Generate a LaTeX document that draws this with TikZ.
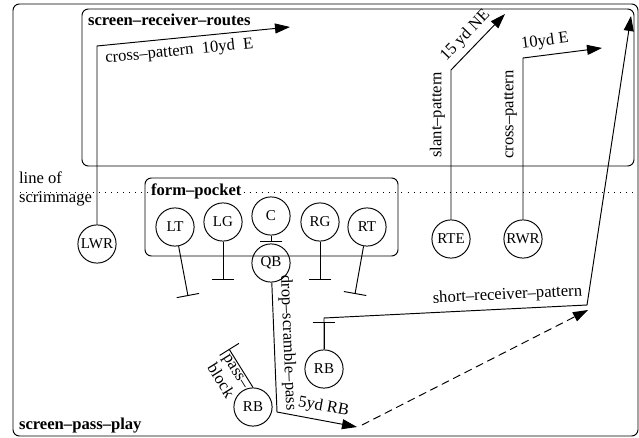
\documentclass[tikz,border=0pt]{standalone}
\usepackage{fontspec}
\setmainfont{Liberation Serif}
\usepackage{tikz}
\usetikzlibrary{arrows.meta}

\begin{document}
\fontsize{10.4}{11.8}\selectfont
\begin{tikzpicture}[
    x=0.22mm, y=-0.22mm, semithick,
    player/.style={draw, circle, inner sep=0pt, minimum size=8.4mm, font=\fontsize{9.4}{11}\selectfont},
    zone/.style={draw, rounded corners=4pt},
    zonelabel/.style={font=\bfseries, inner sep=1pt, anchor=west},
    route/.style={->},
    blocking/.style={-{Bar[width=5mm]}},
    scrimmage/.style={dash pattern=on 0.6pt off 3.2pt},
    >={Triangle[length=3.3mm, width=2.2mm]}
  ]
  \useasboundingbox (0,0) rectangle (639,437);
  \draw[zone] (13,4) rectangle (638,436);
  \draw[zone] (82,9) rectangle (634,166);
  \draw[zone] (145,178) rectangle (398,256);
  \node[zonelabel] (playlabel) at (17,426) {screen--pass--play};
  \node[zonelabel] (routeslabel) at (86,20) {screen--receiver--routes};
  \node[zonelabel] (pocketlabel) at (149,191) {form--pocket};
  \node[align=left, anchor=west, inner sep=1pt] (scrimlabel) at (17,189) {line of\\scrimmage};
  \coordinate (scrimleft) at (20,192);
  \coordinate (scrimright) at (634,192);
  \draw[scrimmage] (scrimleft) -- (scrimleft -| pocketlabel.west);
  \draw[scrimmage] (scrimright -| pocketlabel.east) -- (scrimright);

  \node[player] (lwr) at (97,244) {LWR};
  \node[player] (lt) at (175,227) {LT};
  \node[player] (lg) at (223,222) {LG};
  \node[player] (c) at (271,216) {C};
  \node[player] (rg) at (320,222) {RG};
  \node[player] (rt) at (367,227) {RT};
  \node[player] (qb) at (271,263) {QB};
  \node[player] (rte) at (451,239) {RTE};
  \node[player] (rwr) at (523,239) {RWR};
  \node[player] (rb) at (324,369) {RB};
  \node[player] (rbback) at (253,407) {RB};

  \coordinate (ltstop) at (188,296);
  \coordinate (lgstop) at (223,280);
  \coordinate (cstop) at (271,242);
  \coordinate (rgstop) at (320,280);
  \coordinate (rtstop) at (355,294);
  \coordinate (rbstop) at (324,322);
  \coordinate (rbbackstop) at (229,349);
  \draw[blocking] (lt) -- (ltstop);
  \draw[blocking] (lg) -- (lgstop);
  \draw[blocking] (c) -- (cstop);
  \draw[blocking] (rg) -- (rgstop);
  \draw[blocking] (rt) -- (rtstop);
  \draw[blocking] (rb) -- (rbstop);
  \draw[blocking] (rbback.north) -- (rbbackstop)
    node[midway, sloped, below, align=left, inner sep=1pt] {pass--\\block};

  \coordinate (lwrturn) at (97,46);
  \coordinate (lwrend) at (290,27);
  \coordinate (rteturn) at (451,70);
  \coordinate (rteend) at (505,14);
  \coordinate (rwrturn) at (523,58);
  \coordinate (rwrend) at (602,48);
  \coordinate (rbup) at (324,318);
  \coordinate (rbturn) at (587,305);
  \coordinate (rbend) at (631,16);
  \coordinate (qbturn) at (277,412);
  \coordinate (qbend) at (357,427);
  \coordinate (passfrom) at (362,425);
  \coordinate (passto) at (588,310);
  \draw[route] (lwr) -- (lwrturn) -- (lwrend)
    node[pos=0.42, sloped, below] {cross--pattern\ \ 10yd\ \ E};
  \draw[route] (rte) -- (rteturn) node[pos=0.7, sloped, above] {slant--pattern}
    -- (rteend) node[pos=0.45, sloped, above] {15 yd NE};
  \draw[route] (rwr) -- (rwrturn) node[pos=0.65, sloped, above] {cross--pattern}
    -- (rwrend) node[pos=0.3, sloped, above] {10yd E};
  \draw[route] (rb) -- (rbup) -- (rbturn) node[pos=0.7, sloped, above] {short--receiver--pattern}
    -- (rbend);
  \draw[route] (qb) -- (qbturn) node[pos=0.47, sloped, above] {drop--scramble--pass}
    -- (qbend) node[pos=0.55, sloped, above] {5yd RB};
  \draw[route, dash pattern=on 5pt off 3pt] (passfrom) -- (passto);
\end{tikzpicture}
\end{document}
